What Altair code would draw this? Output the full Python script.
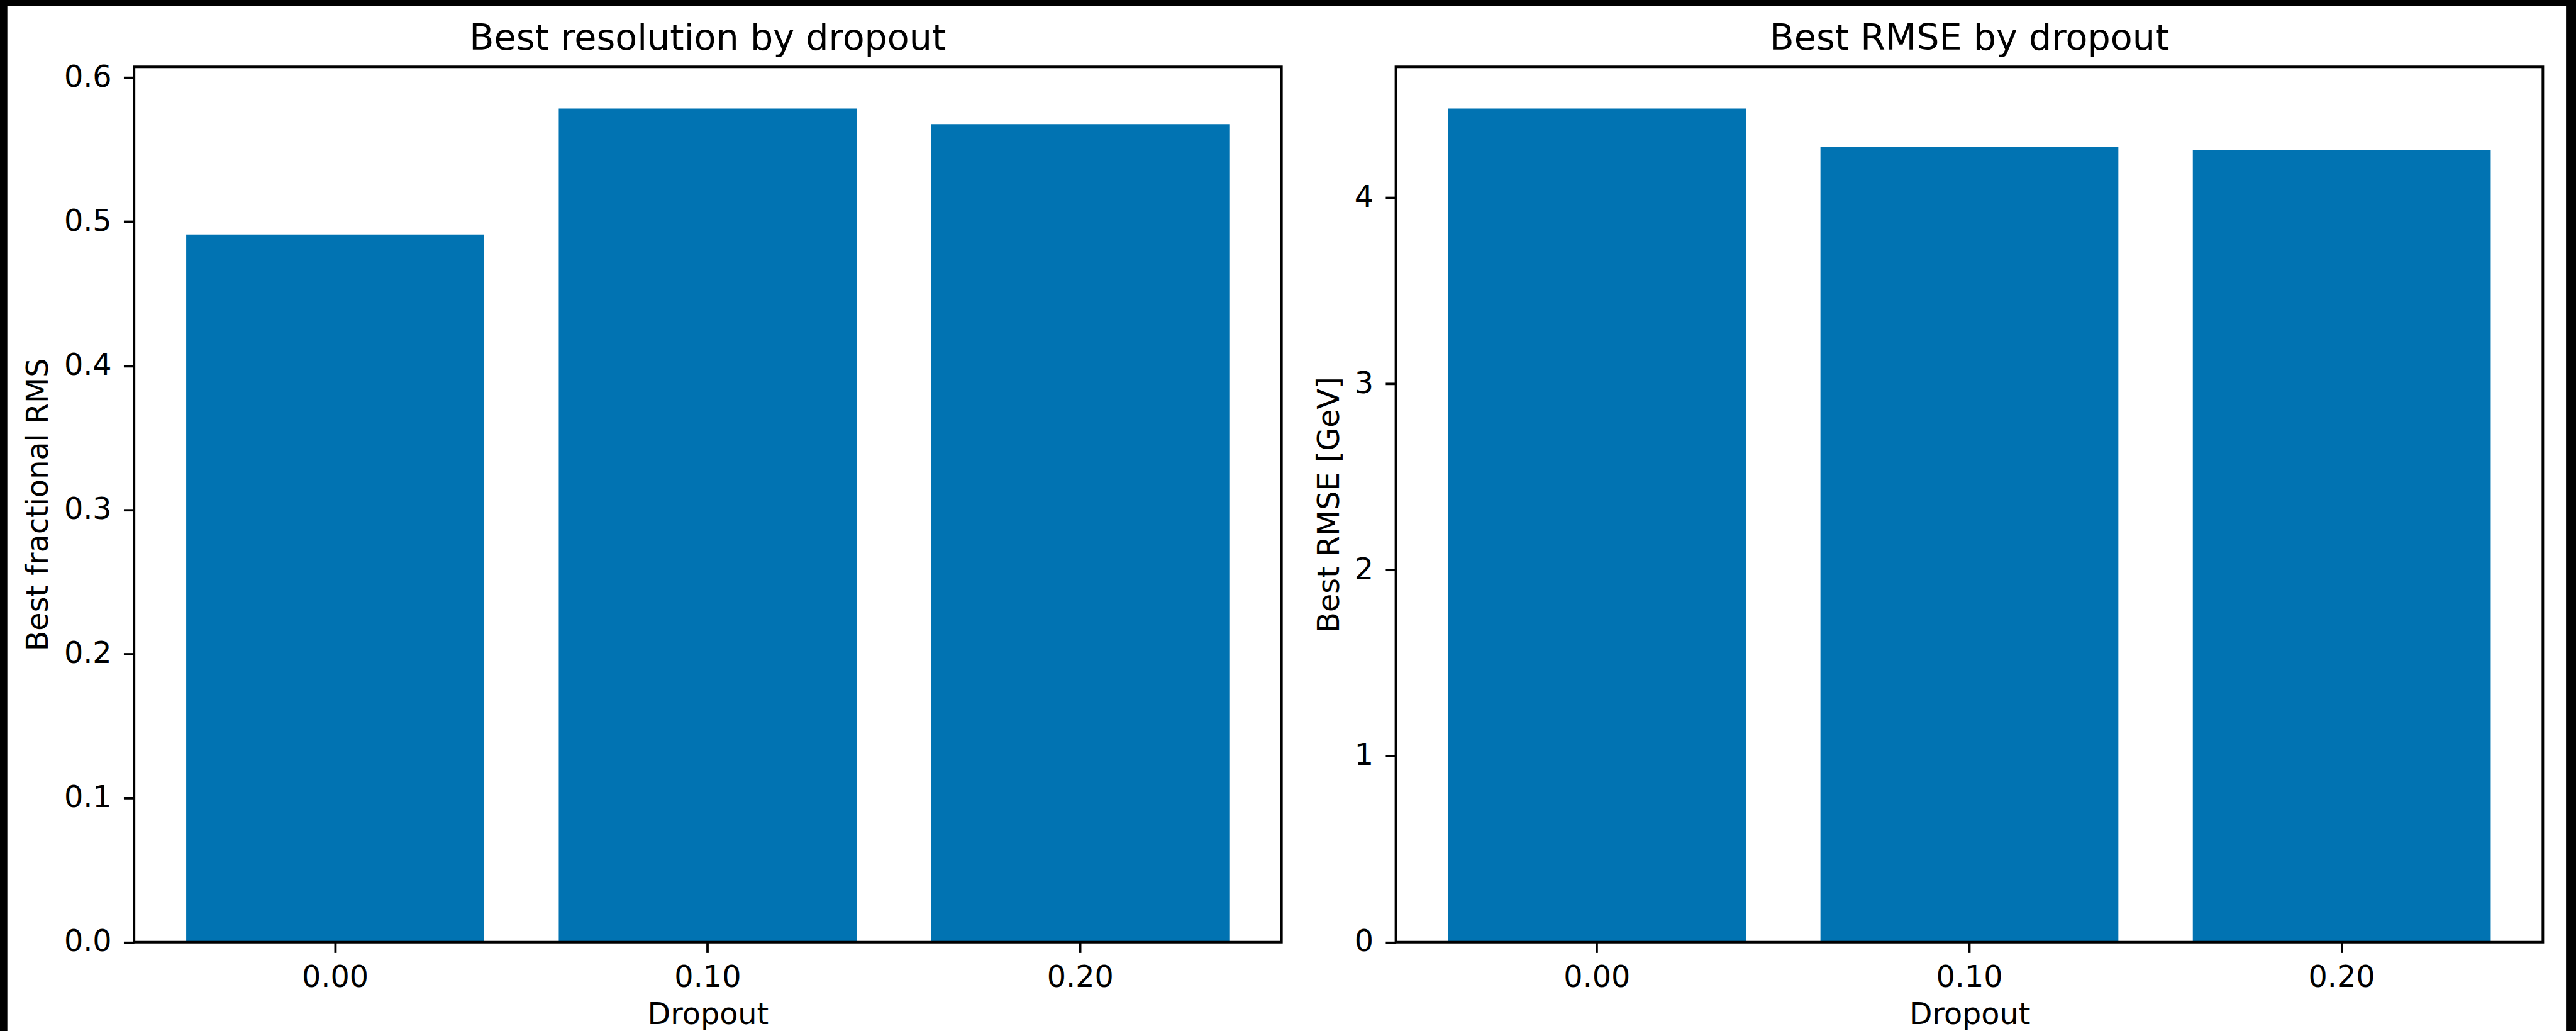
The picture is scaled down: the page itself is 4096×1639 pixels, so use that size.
import altair as alt
import pandas as pd

# ---- data -------------------------------------------------------------
dropout = ["0.00", "0.10", "0.20"]
best_resolution = [0.4911, 0.5785, 0.5677]
best_rmse = [4.480, 4.273, 4.256]

panel_titles = ["Best resolution by dropout", "Best RMSE by dropout"]
y_titles = ["Best fractional RMS", "Best RMSE [GeV]"]
x_title = "Dropout"
resolution_ticks = [0.0, 0.1, 0.2, 0.3, 0.4, 0.5, 0.6]
rmse_ticks = [0, 1, 2, 3, 4]

# ---- style ------------------------------------------------------------
BAR = "#0173b2"
FONT = "DejaVu Sans"
TICK_FS = 47.7
TITLE_FS = 57.2
LINE_W = 4

# ---- geometry (px) ----------------------------------------------------
PAGE_W, PAGE_H = 4096, 1639
BORDER_L, BORDER_T, BORDER_R = 10.3, 7.7, 14.6
PLOT_X0, PLOT_Y0 = 211.9, 104.7
H = 1392.5
W_LEFT, W_RIGHT = 1825.8, 1825.0
GAP = 181.9
TITLE_BASELINE = 27.5  # distance of the panel title's baseline above the top spine


def axis_common():
    return dict(
        domain=False,
        grid=False,
        ticks=True,
        tickColor="black",
        tickWidth=3.8,
        tickSize=16.7,
        labelFont=FONT,
        labelFontSize=TICK_FS,
        labelColor="black",
        titleFont=FONT,
        titleFontSize=TICK_FS,
        titleFontWeight="normal",
        titleColor="black",
        zindex=2,
    )


def panel(values, title, ytitle, yfmt, yticks, width, page_x, page_x2, ytitle_x):
    df = pd.DataFrame({"dropout": dropout, "value": values})
    top = max(values) * 1.05  # 5% headroom above the tallest bar

    x = alt.X(
        "dropout:N",
        sort=dropout,
        title=x_title,
        scale=alt.Scale(paddingInner=0.2, paddingOuter=0.14),
        axis=alt.Axis(
            labelAngle=0,
            labelBaseline="alphabetic",
            labelPadding=54.5,
            titleY=130,
            titleBaseline="alphabetic",
            **axis_common(),
        ),
    )
    y = alt.Y(
        "value:Q",
        title=ytitle,
        scale=alt.Scale(domain=[0, top], nice=False, zero=True),
        axis=alt.Axis(
            values=yticks,
            format=yfmt,
            labelPadding=19.3,
            titleX=ytitle_x,
            titleY=H / 2,
            titleAngle=270,
            titleAlign="center",
            titleBaseline="alphabetic",
            **axis_common(),
        ),
    )

    # white page behind this panel's share of the figure
    backdrop = alt.Chart(alt.Data(values=[{}])).mark_rect(color="white").encode(
        x=alt.value(page_x),
        x2=alt.value(page_x2),
        y=alt.value(-(PLOT_Y0 - BORDER_T)),
        y2=alt.value(PAGE_H - PLOT_Y0),
    )
    bars = alt.Chart(df).mark_bar(color=BAR).encode(x=x, y=y)
    # axes box (all four spines)
    frame = alt.Chart(alt.Data(values=[{}])).mark_rect(
        filled=False, color="black", strokeWidth=LINE_W
    ).encode(
        x=alt.value(0), x2=alt.value(width), y=alt.value(0), y2=alt.value(H)
    )
    # panel title, centred over the axes box
    heading = alt.Chart(alt.Data(values=[{"label": title}])).mark_text(
        font=FONT,
        fontSize=TITLE_FS,
        color="black",
        align="center",
        baseline="alphabetic",
    ).encode(
        text="label:N",
        x=alt.value(width / 2),
        y=alt.value(-TITLE_BASELINE),
    )

    return alt.layer(backdrop, bars, frame, heading).properties(width=width, height=H)


left = panel(
    best_resolution, panel_titles[0], y_titles[0], ".1f", resolution_ticks,
    W_LEFT, -(PLOT_X0 - BORDER_L), W_LEFT + GAP / 2 + 3, -137.3,
)
right_x0 = PLOT_X0 + W_LEFT + GAP
right = panel(
    best_rmse, panel_titles[1], y_titles[1], "d", rmse_ticks,
    W_RIGHT, -GAP / 2, PAGE_W - BORDER_R - right_x0, -91.6,
)

chart = (
    alt.hconcat(left, right, spacing=GAP, bounds="flush")
    .properties(
        background="black",
        padding={"left": BORDER_L, "top": BORDER_T, "right": BORDER_R, "bottom": 0},
    )
    .configure_view(stroke="transparent")
)

chart.save("out.html", embed_options={"renderer": "svg", "actions": False})
